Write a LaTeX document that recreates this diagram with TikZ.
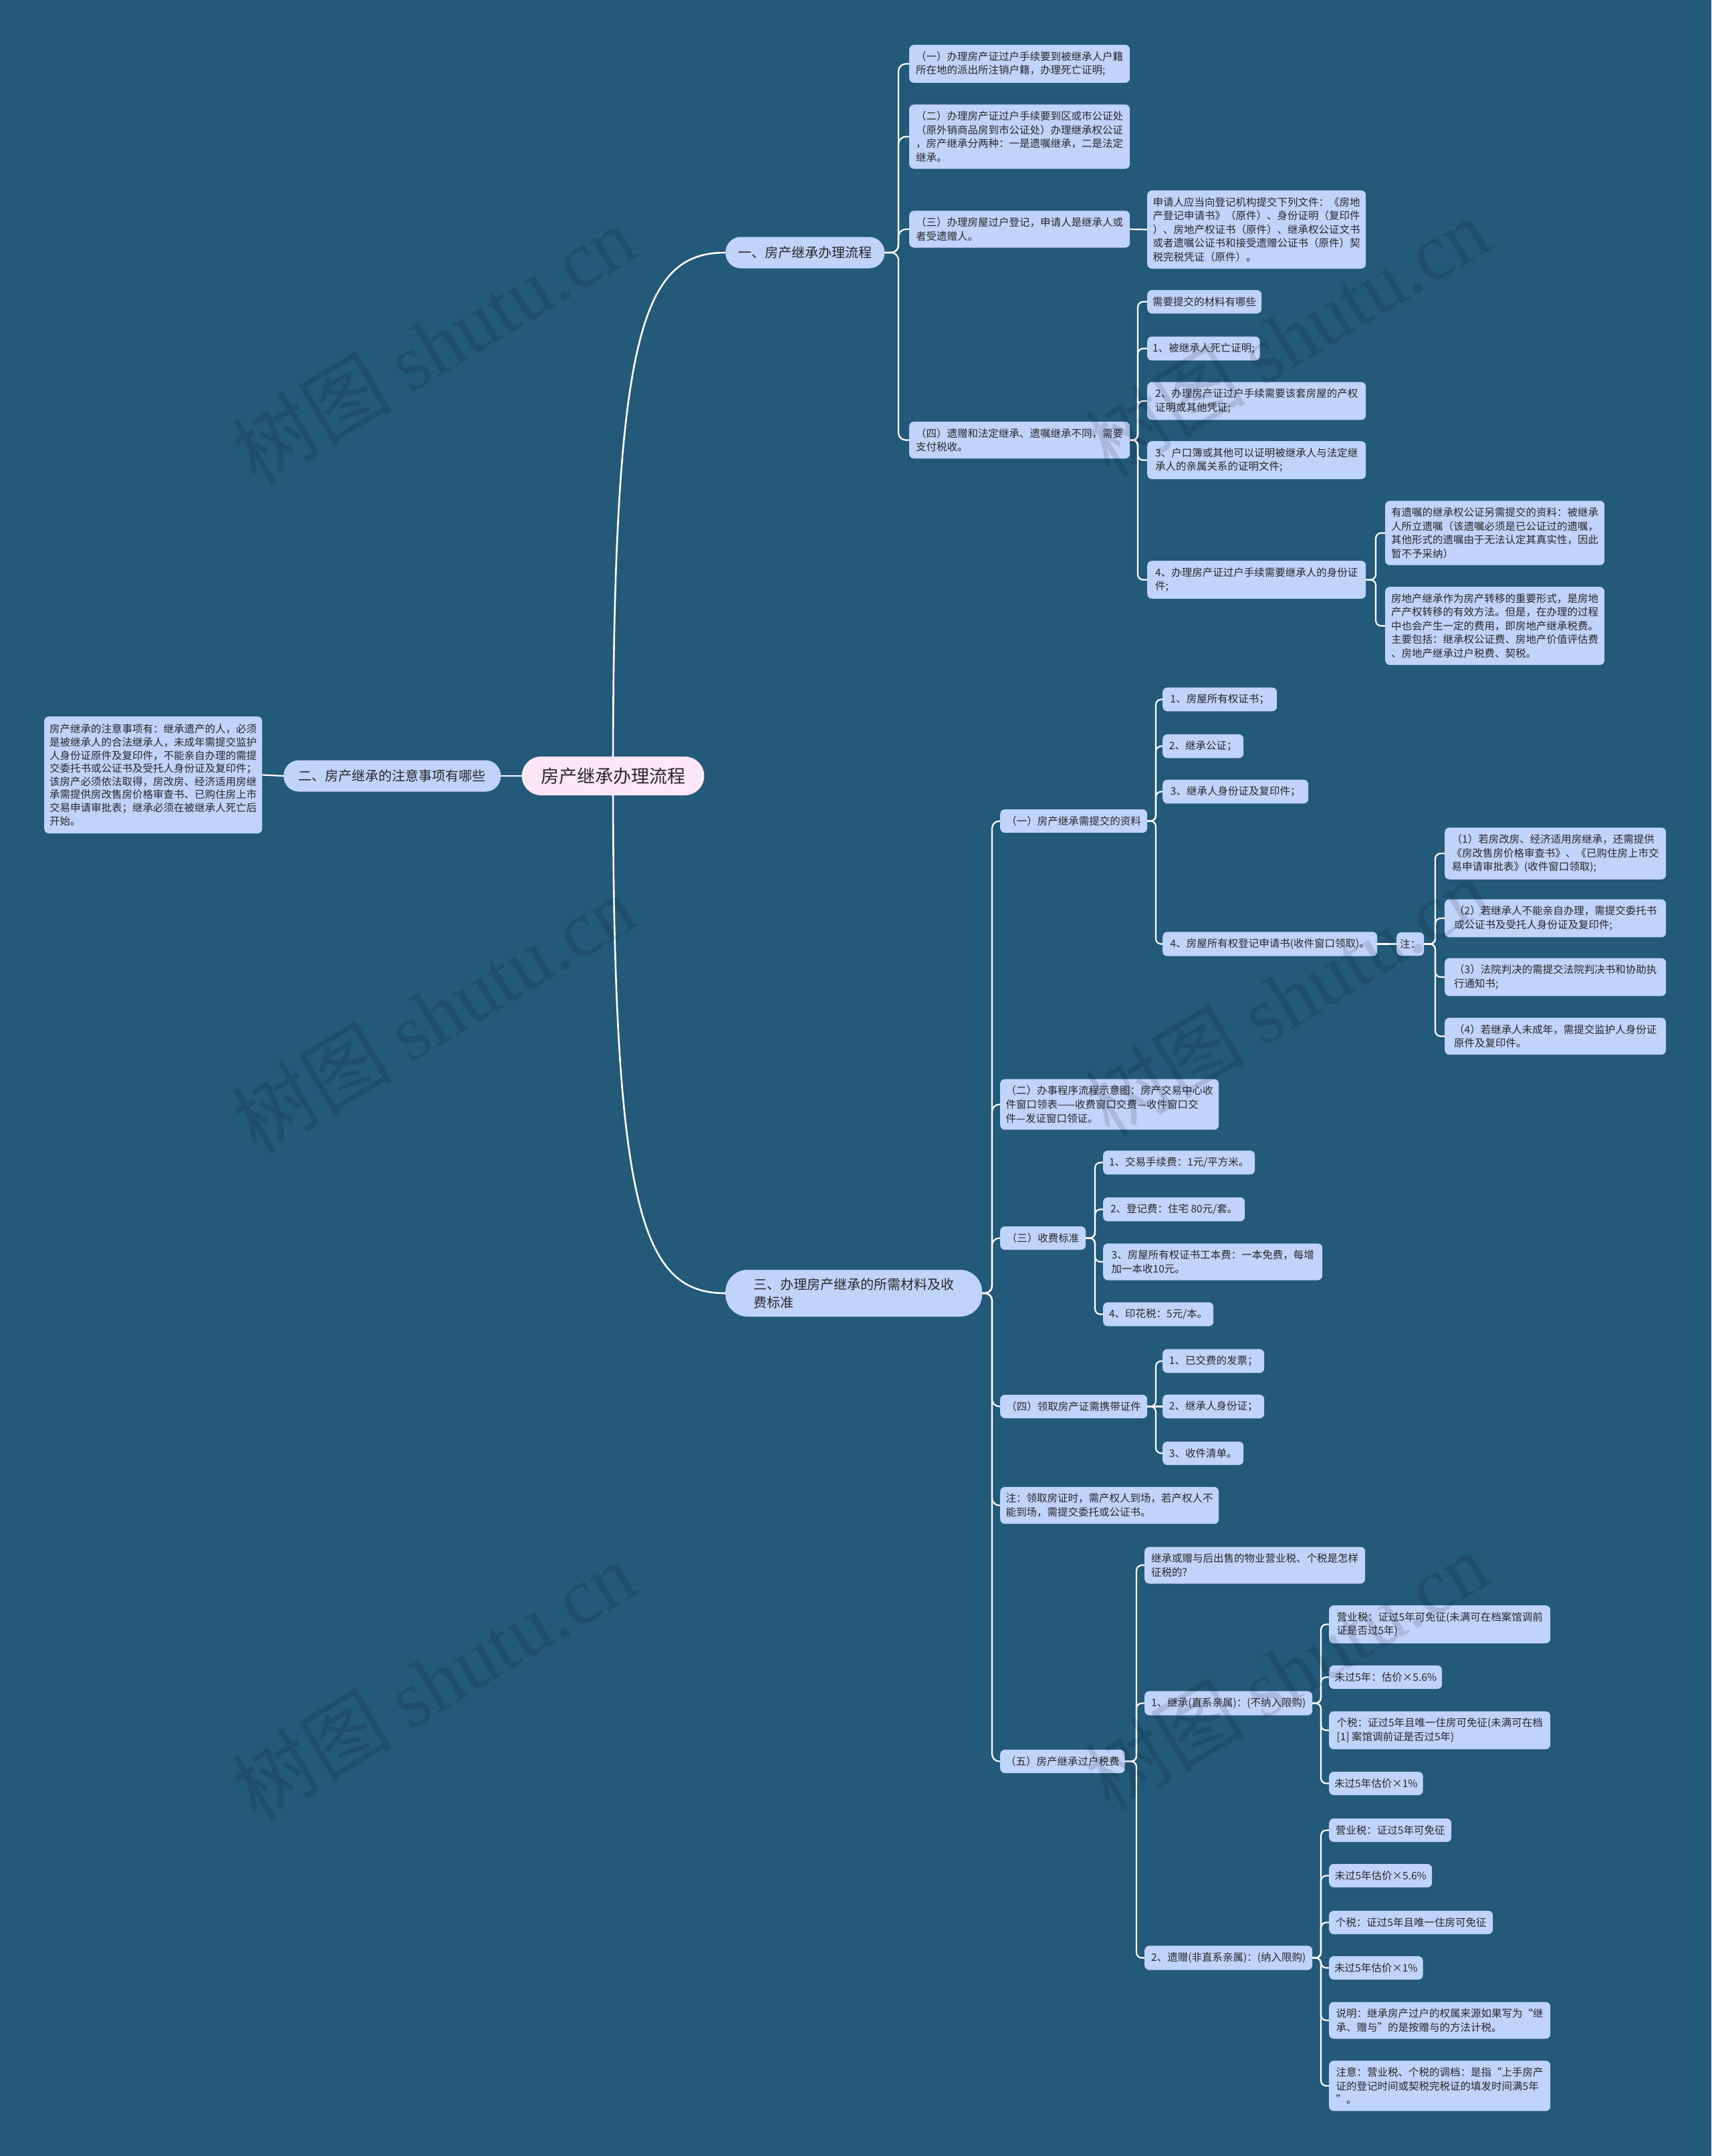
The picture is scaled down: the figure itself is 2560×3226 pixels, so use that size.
\documentclass[tikz,border=0pt]{standalone}
\usepackage{fontspec}
\setmainfont{Noto Sans CJK SC}
\newfontfamily\wmserif{Liberation Serif}
\usetikzlibrary{calc}
\definecolor{bg}{RGB}{35,89,121}
\definecolor{nodefill}{RGB}{192,211,251}
\definecolor{rootfill}{RGB}{253,231,247}
\definecolor{txt}{RGB}{40,40,40}
\pgfdeclarelayer{back}
\pgfsetlayers{back,main}
\begin{document}
\begin{tikzpicture}[x=1pt,y=-1pt,
  box/.style={fill=nodefill, rounded corners=7pt, text=txt,
    font=\fontsize{15.5}{20.6}\selectfont, align=left,
    inner xsep=8pt, inner ysep=10pt, anchor=west,
    minimum height=35pt, minimum width=#1pt},
  box/.default=10,
  branch/.style={fill=nodefill, rounded corners=23pt, text=txt,
    font=\fontsize{20}{27}\selectfont, align=left,
    inner xsep=14pt, anchor=west, minimum height=47pt, minimum width=#1pt},
  rootnode/.style={fill=rootfill, rounded corners=29pt, text=txt,
    font=\fontsize{27}{32}\selectfont, minimum width=273pt, minimum height=58pt},
  link/.style={draw=white, line width=2.2pt, rounded corners=#1},
  link/.default=8pt,
  toplink/.style={draw=white, line width=2.6pt},
  wm/.style={rotate=31, text=black, opacity=0.12, font=\fontsize{120}{120}\selectfont}
]
\useasboundingbox (0,0) rectangle (2560,3226);
\begin{pgfonlayer}{back}
\fill[bg] (0,0) rectangle (2560,3226);
\end{pgfonlayer}

% root and main branches
\node[rootnode] (root) at (917,1161) {房产继承办理流程};
\node[branch=238] (b1) at (1085,378) {一、房产继承办理流程};
\node[branch=325] (b2) at (424,1161) {二、房产继承的注意事项有哪些};
\node[branch=384, rounded corners=33pt, inner xsep=37pt, minimum height=70pt] (b3) at (1085,1935) {三、办理房产继承的所需材料及收\\费标准};
\node[box=325, font=\fontsize{15.5}{19.6}\selectfont, minimum height=175pt] (lnote) at (66,1159.5) {房产继承的注意事项有：继承遗产的人，必须\\是被继承人的合法继承人，未成年需提交监护\\人身份证原件及复印件，不能亲自办理的需提\\交委托书或公证书及受托人身份证及复印件；\\该房产必须依法取得，房改房、经济适用房继\\承需提供房改售房价格审查书、已购住房上市\\交易申请审批表；继承必须在被继承人死亡后\\开始。};

% branch 1
\node[box=330] (a1) at (1360,95.5) {（一）办理房产证过户手续要到被继承人户籍\\所在地的派出所注销户籍，办理死亡证明;};
\node[box=330] (a2) at (1360,204.5) {（二）办理房产证过户手续要到区或市公证处\\（原外销商品房到市公证处）办理继承权公证\\，房产继承分两种：一是遗嘱继承，二是法定\\继承。};
\node[box=330] (a3) at (1360,343) {（三）办理房屋过户登记，申请人是继承人或\\者受遗赠人。};
\node[box=327] (a3n) at (1716,343.5) {申请人应当向登记机构提交下列文件：《房地\\产登记申请书》（原件）、身份证明（复印件\\）、房地产权证书（原件）、继承权公证文书\\或者遗嘱公证书和接受遗赠公证书（原件）契\\税完税凭证（原件）。};
\node[box=330] (a4) at (1360,658.5) {（四）遗赠和法定继承、遗嘱继承不同，需要\\支付税收。};
\node[box=169] (c0) at (1716,451.5) {需要提交的材料有哪些};
\node[box=165] (c1) at (1716,521.5) {1、被继承人死亡证明;};
\node[box=327] (c2) at (1716,600) {2、办理房产证过户手续需要该套房屋的产权\\证明或其他凭证;};
\node[box=327] (c3) at (1716,688.5) {3、户口簿或其他可以证明被继承人与法定继\\承人的亲属关系的证明文件;};
\node[box=327] (c4) at (1716,867.5) {4、办理房产证过户手续需要继承人的身份证\\件;};
\node[box=328] (d1) at (2072,797.5) {有遗嘱的继承权公证另需提交的资料：被继承\\人所立遗嘱（该遗嘱必须是已公证过的遗嘱，\\其他形式的遗嘱由于无法认定其真实性，因此\\暂不予采纳）};
\node[box=328] (d2) at (2072,936.5) {房地产继承作为房产转移的重要形式，是房地\\产产权转移的有效方法。但是，在办理的过程\\中也会产生一定的费用，即房地产继承税费。\\主要包括：继承权公证费、房地产价值评估费\\、房地产继承过户税费、契税。};

% branch 3
\node[box=220] (e1) at (1496,1228.5) {（一）房产继承需提交的资料};
\node[box=171] (f1) at (1739,1046.5) {1、房屋所有权证书；};
\node[box=121] (f2) at (1739,1116.5) {2、继承公证；};
\node[box=218] (f3) at (1739,1184.5) {3、继承人身份证及复印件；};
\node[box=321] (f4) at (1739,1412.5) {4、房屋所有权登记申请书(收件窗口领取)。};
\node[box=39, inner xsep=5pt] (g0) at (2089,1412.5) {注：};
\node[box=331] (h1) at (2161,1277) {（1）若房改房、经济适用房继承，还需提供\\《房改售房价格审查书》、《已购住房上市交\\易申请审批表》(收件窗口领取);};
\node[box=331] (h2) at (2161,1374) {（2）若继承人不能亲自办理，需提交委托书\\或公证书及受托人身份证及复印件;};
\node[box=331] (h3) at (2161,1462) {（3）法院判决的需提交法院判决书和协助执\\行通知书;};
\node[box=331] (h4) at (2161,1550.5) {（4）若继承人未成年，需提交监护人身份证\\原件及复印件。};
\node[box=327] (e2) at (1496,1652.5) {（二）办事程序流程示意图：房产交易中心收\\件窗口领表——收费窗口交费—收件窗口交\\件—发证窗口领证。};
\node[box=128] (e3) at (1496,1852.5) {（三）收费标准};
\node[box=227] (i1) at (1650,1739.5) {1、交易手续费：1元/平方米。};
\node[box=212] (i2) at (1650,1809.5) {2、登记费：住宅 80元/套。};
\node[box=328] (i3) at (1650,1888) {3、房屋所有权证书工本费：一本免费，每增\\加一本收10元。};
\node[box=165] (i4) at (1650,1966.5) {4、印花税：5元/本。};
\node[box=220] (e4) at (1496,2104.5) {（四）领取房产证需携带证件};
\node[box=152] (j1) at (1739,2036.5) {1、已交费的发票；};
\node[box=152] (j2) at (1739,2104.5) {2、继承人身份证；};
\node[box=121] (j3) at (1739,2174.5) {3、收件清单。};
\node[box=327] (e5) at (1496,2252.5) {注：领取房证时，需产权人到场，若产权人不\\能到场，需提交委托或公证书。};
\node[box=185] (e6) at (1496,2635.5) {（五）房产继承过户税费};
\node[box=330] (k0) at (1712,2342) {继承或赠与后出售的物业营业税、个税是怎样\\征税的?};
\node[box=251] (k1) at (1712,2548.5) {1、继承(直系亲属)：(不纳入限购)};
\node[box=251] (k2) at (1712,2929.5) {2、遗赠(非直系亲属)：(纳入限购)};
\node[box=331] (l1) at (1988,2430.5) {营业税：证过5年可免征(未满可在档案馆调前\\证是否过5年)};
\node[box=169] (l2) at (1988,2509.5) {未过5年：估价×5.6\%};
\node[box=331] (l3) at (1988,2589) {个税：证过5年且唯一住房可免征(未满可在档\\{[1]} 案馆调前证是否过5年)};
\node[box=140] (l4) at (1988,2668.5) {未过5年估价×1\%};
\node[box=183] (m1) at (1988,2738.5) {营业税：证过5年可免征};
\node[box=154] (m2) at (1988,2806.5) {未过5年估价×5.6\%};
\node[box=245] (m3) at (1988,2876.5) {个税：证过5年且唯一住房可免征};
\node[box=140] (m4) at (1988,2944.5) {未过5年估价×1\%};
\node[box=331] (m5) at (1988,3023) {说明：继承房产过户的权属来源如果写为“继\\承、赠与”的是按赠与的方法计税。};
\node[box=331] (m6) at (1988,3121) {注意：营业税、个税的调档：是指“上手房产\\证的登记时间或契税完税证的填发时间满5年\\”。};

% trunk coordinates
\coordinate (tb1) at (1344,0);
\coordinate (ta4) at (1702,0);
\coordinate (tc4) at (2058,0);
\coordinate (tb3) at (1484,0);
\coordinate (te1) at (1729,0);
\coordinate (tg0) at (2147,0);
\coordinate (te3) at (1638,0);
\coordinate (te4) at (1729,0);
\coordinate (te6) at (1700,0);
\coordinate (tk1) at (1976,0);
\coordinate (tk2) at (1976,0);

\begin{pgfonlayer}{back}
\draw[toplink] (root.center) .. controls (917,500) and (960,378) .. (b1.west);
\draw[toplink] (root.center) .. controls (917,1811) and (960,1935) .. (b3.west);
\draw[toplink] (root.center) -- (b2.east);
\draw[link] (b2.west) -- (lnote.east);
\foreach \c in {a1,a2,a3,a4} \draw[link=11pt] (b1.east) -- (b1.east -| tb1) |- (\c.west);
\draw[link] (a3.east) -- (a3n.west);
\foreach \c in {c0,c1,c2,c3,c4} \draw[link] (a4.east) -- (a4.east -| ta4) |- (\c.west);
\foreach \c in {d1,d2} \draw[link] (c4.east) -- (c4.east -| tc4) |- (\c.west);
\foreach \c in {e1,e2,e3,e4,e5,e6} \draw[link=11pt] (b3.east) -- (b3.east -| tb3) |- (\c.west);
\foreach \c in {f1,f2,f3,f4} \draw[link] (e1.east) -- (e1.east -| te1) |- (\c.west);
\draw[link] (f4.east) -- (g0.west);
\foreach \c in {h1,h2,h3,h4} \draw[link] (g0.east) -- (g0.east -| tg0) |- (\c.west);
\foreach \c in {i1,i2,i3,i4} \draw[link] (e3.east) -- (e3.east -| te3) |- (\c.west);
\foreach \c in {j1,j3} \draw[link] (e4.east) -- (e4.east -| te4) |- (\c.west);
\draw[link] (e4.east) -- (j2.west);
\foreach \c in {k0,k1,k2} \draw[link] (e6.east) -- (e6.east -| te6) |- (\c.west);
\foreach \c in {l1,l2,l3,l4} \draw[link] (k1.east) -- (k1.east -| tk1) |- (\c.west);
\foreach \c in {m1,m2,m3,m4,m5,m6} \draw[link] (k2.east) -- (k2.east -| tk2) |- (\c.west);
\end{pgfonlayer}

% watermarks
\node[wm] (w1) at (648,515) {树图 {\wmserif shutu.cn}};
\node[wm] (w2) at (1924,504) {树图 {\wmserif shutu.cn}};
\node[wm] (w3) at (648,1517) {树图 {\wmserif shutu.cn}};
\node[wm] (w4) at (1924,1492) {树图 {\wmserif shutu.cn}};
\node[wm] (w5) at (648,2515) {树图 {\wmserif shutu.cn}};
\node[wm] (w6) at (1924,2500) {树图 {\wmserif shutu.cn}};
\end{tikzpicture}
\end{document}
